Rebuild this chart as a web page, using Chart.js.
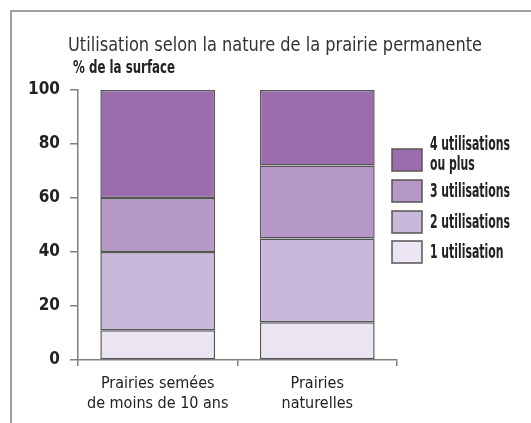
<!DOCTYPE html>
<html>
<head>
<meta charset="utf-8">
<script src="https://cdn.jsdelivr.net/npm/chart.js@4"></script>
<style>
  html, body { margin: 0; padding: 0; background: #fff; }
  canvas { display: block; }
</style>
</head>
<body>
<canvas id="chart" width="531" height="423"></canvas>
<script>
// données
const categories = [['Prairies semées', 'de moins de 10 ans'], ['Prairies', 'naturelles']];
const seriesNames = ['1 utilisation', '2 utilisations', '3 utilisations', '4 utilisations'];
const legendLabels = [['4 utilisations', 'ou plus'], ['3 utilisations'], ['2 utilisations'], ['1 utilisation']];
const une = [11, 14];
const deux = [29, 31];
const trois = [20, 27];
const quatre = [40, 28];
const yTicks = [0, 20, 40, 60, 80, 100];
const colors = ['#ebe5f1', '#cab8da', '#b598c6', '#9b6dae'];

const titleText = 'Utilisation selon la nature de la prairie permanente';
const unitText = '% de la surface';
const narrow = "'DejaVu Sans Condensed', 'Liberation Sans Narrow', sans-serif";

// texte comprimé horizontalement (police étroite)
function narrowText(ctx, text, x, y, squeeze) {
  ctx.save();
  ctx.translate(x, y);
  ctx.scale(squeeze, 1);
  ctx.fillText(text, 0, 0);
  ctx.restore();
}

// cadre, titre et légende dessinés à la main
const decorPlugin = {
  id: 'decor',
  beforeDraw(chart) {
    const ctx = chart.ctx;
    ctx.save();
    ctx.strokeStyle = '#808080';
    ctx.lineWidth = 1.5;
    ctx.strokeRect(11, 11, 540, 430);
    ctx.restore();
  },
  afterDraw(chart) {
    const ctx = chart.ctx;
    ctx.save();
    ctx.textBaseline = 'middle';
    ctx.fillStyle = '#333';
    ctx.font = "20px " + narrow;
    ctx.fillText(titleText, 68, 46, 414);

    ctx.fillStyle = '#222';
    ctx.font = "bold 17px " + narrow;
    ctx.fillText(unitText, 73, 69, 102);

    // légende
    ctx.font = "bold 19px " + narrow;
    const k = 80 / ctx.measureText('4 utilisations').width;
    const boxTops = [149, 180, 211, 241];
    legendLabels.forEach((lines, i) => {
      const y = boxTops[i];
      ctx.fillStyle = colors[3 - i];
      ctx.fillRect(392, y, 30, 22);
      ctx.strokeStyle = '#555';
      ctx.lineWidth = 1.5;
      ctx.strokeRect(392, y, 30, 22);
      ctx.fillStyle = '#222';
      if (lines.length === 2) {
        narrowText(ctx, lines[0], 430, 145, k);
        narrowText(ctx, lines[1], 430, 165, k);
      } else {
        narrowText(ctx, lines[0], 430, y + 12, k);
      }
    });
    ctx.restore();
  }
};

const datasets = [une, deux, trois, quatre].map((data, i) => ({
  label: seriesNames[i],
  data: data,
  backgroundColor: colors[i],
  borderColor: '#555',
  borderWidth: 1.5,
  borderSkipped: false,
  barPercentage: 0.72,
  categoryPercentage: 1
}));

new Chart(document.getElementById('chart'), {
  type: 'bar',
  data: { labels: categories, datasets: datasets },
  options: {
    responsive: false,
    animation: false,
    layout: { padding: { left: 0, top: 90, right: 134, bottom: 0 } },
    plugins: {
      legend: { display: false },
      tooltip: { enabled: false }
    },
    scales: {
      x: {
        stacked: true,
        offset: true,
        afterFit: (scale) => {
          scale.height = 63;
          scale.paddingLeft = 0;
          scale.paddingRight = 0;
        },
        border: { display: true, color: '#808080', width: 1.5 },
        grid: {
          offset: true,
          drawOnChartArea: false,
          drawTicks: true,
          tickLength: 6,
          color: '#808080',
          lineWidth: 1.5
        },
        ticks: {
          padding: 8,
          maxRotation: 0,
          minRotation: 0,
          autoSkip: false,
          color: '#222',
          font: { family: narrow, size: 16, lineHeight: 1.25 }
        }
      },
      y: {
        stacked: true,
        min: 0,
        max: 100,
        afterFit: (scale) => {
          scale.width = 78;
          scale.paddingTop = 0;
          scale.paddingBottom = 0;
        },
        afterBuildTicks: (scale) => { scale.ticks = yTicks.map(v => ({ value: v })); },
        border: { display: true, color: '#808080', width: 1.5 },
        grid: {
          drawOnChartArea: false,
          drawTicks: true,
          tickLength: 8,
          color: '#808080',
          lineWidth: 1.5
        },
        ticks: {
          padding: 10,
          color: '#222',
          font: { family: narrow, size: 17, weight: 'bold' }
        }
      }
    }
  },
  plugins: [decorPlugin]
});
</script>
</body>
</html>
